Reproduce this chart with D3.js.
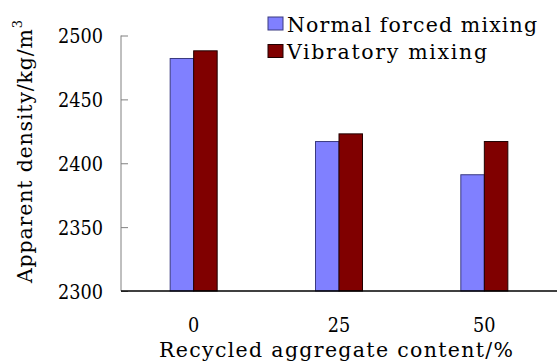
<!DOCTYPE html>
<html lang="en">
<head>
  <meta charset="UTF-8">
  <title>Apparent density</title>
  <style>
  body { margin: 0; background: #fff; }
  svg { display: block; }
  .lbl { font-family: "DejaVu Serif", serif; font-size: 20.5px; fill: #000; }
  .num { font-family: "DejaVu Serif", serif; font-size: 21px; fill: #000; }
  </style>
</head>
<body>
  <svg></svg>
  <script src="https://d3js.org/d3.v7.min.js"></script>
  <script>

  var categories = ['0', '25', '50'];
  var seriesNames = ['Normal forced mixing', 'Vibratory mixing'];
  var normalForced = [2482, 2417, 2391];
  var vibratory = [2488, 2423, 2417];
  var yTicks = [2300, 2350, 2400, 2450, 2500];

  var colors = ['#8080ff', '#800000'];
  var strokes = ['#3a3a80', '#200000'];

  var width = 557, height = 363;
  var svg = d3.select('svg').attr('width', width).attr('height', height);

  var plotLeft = 121, plotRight = 557, plotTop = 35.5, plotBottom = 291;

  var x0 = d3.scaleBand().domain(categories).range([plotLeft, plotRight]);
  var x1 = d3.scaleBand().domain(seriesNames).range([0, 47]);
  var y = d3.scaleLinear().domain([2300, 2500]).range([plotBottom, plotTop]);

  var rows = categories.map(function (c, i) {
    return { cat: c, values: [normalForced[i], vibratory[i]] };
  });

  // bars
  var groups = svg.selectAll('g.grp')
    .data(rows)
    .enter()
    .append('g')
    .attr('class', 'grp')
    .attr('transform', function (d) {
      return 'translate(' + (x0(d.cat) + x0.bandwidth() / 2 - 23.5) + ',0)';
    });

  groups.selectAll('rect')
    .data(function (d) {
      return d.values.map(function (v, j) { return { name: seriesNames[j], v: v, j: j }; });
    })
    .enter()
    .append('rect')
    .attr('x', function (d) { return x1(d.name); })
    .attr('y', function (d) { return y(d.v); })
    .attr('width', x1.bandwidth())
    .attr('height', function (d) { return y(2300) - y(d.v); })
    .attr('fill', function (d) { return colors[d.j]; })
    .attr('stroke', function (d) { return strokes[d.j]; })
    .attr('stroke-width', 1);

  // y axis (grey line, ticks pointing inward)
  var yAxis = d3.axisRight(y).tickValues(yTicks).tickSize(7).tickFormat('');
  var ya = svg.append('g').attr('transform', 'translate(' + plotLeft + ',0)').call(yAxis);
  ya.select('.domain').attr('stroke', '#808080').attr('d', 'M0,' + plotTop + 'V' + plotBottom);
  ya.selectAll('.tick line').attr('stroke', '#808080');

  // tick labels: narrow digits like the original, so squeeze to its width
  svg.selectAll('text.ytick')
    .data(yTicks)
    .enter()
    .append('text')
    .attr('class', 'num ytick')
    .attr('x', 103)
    .attr('y', function (d) { return y(d) + 7.5; })
    .attr('text-anchor', 'end')
    .attr('textLength', 45).attr('lengthAdjust', 'spacingAndGlyphs')
    .text(function (d) { return d; });

  // baseline
  svg.append('line')
    .attr('x1', plotLeft).attr('x2', plotRight)
    .attr('y1', plotBottom).attr('y2', plotBottom)
    .attr('stroke', '#000').attr('stroke-width', 1.5);

  svg.selectAll('text.xtick')
    .data(categories)
    .enter()
    .append('text')
    .attr('class', 'num xtick')
    .attr('x', function (d) { return x0(d) + x0.bandwidth() / 2 - d.length * 11.25 / 2; })
    .attr('y', 331.5)
    .attr('textLength', function (d) { return d.length * 11.25; })
    .attr('lengthAdjust', 'spacingAndGlyphs')
    .text(function (d) { return d; });

  // axis titles (original font is a wide monospace, so stretch to its width)
  svg.append('text')
    .attr('class', 'lbl')
    .attr('x', 159).attr('y', 357)
    .attr('textLength', 354).attr('lengthAdjust', 'spacing')
    .text('Recycled aggregate content/%');

  var yt = svg.append('text')
    .attr('class', 'lbl')
    .attr('transform', 'translate(31.5,283) rotate(-90)');
  yt.append('tspan').attr('textLength', 254).attr('lengthAdjust', 'spacing').text('Apparent density/kg/m');
  yt.append('tspan').attr('dy', -10).attr('font-size', 13).text('3');

  // legend
  var legendWidths = [250, 200];
  var legend = svg.selectAll('g.leg')
    .data(seriesNames)
    .enter()
    .append('g')
    .attr('class', 'leg')
    .attr('transform', function (d, i) { return 'translate(268,' + (17 + i * 27.5) + ')'; });

  legend.append('rect')
    .attr('width', 15).attr('height', 13)
    .attr('fill', function (d, i) { return colors[i]; })
    .attr('stroke', function (d, i) { return strokes[i]; });

  legend.append('text')
    .attr('class', 'lbl')
    .attr('x', 19).attr('y', 14.5)
    .attr('textLength', function (d, i) { return legendWidths[i]; })
    .attr('lengthAdjust', 'spacing')
    .text(function (d) { return d; });

  </script>
</body>
</html>
